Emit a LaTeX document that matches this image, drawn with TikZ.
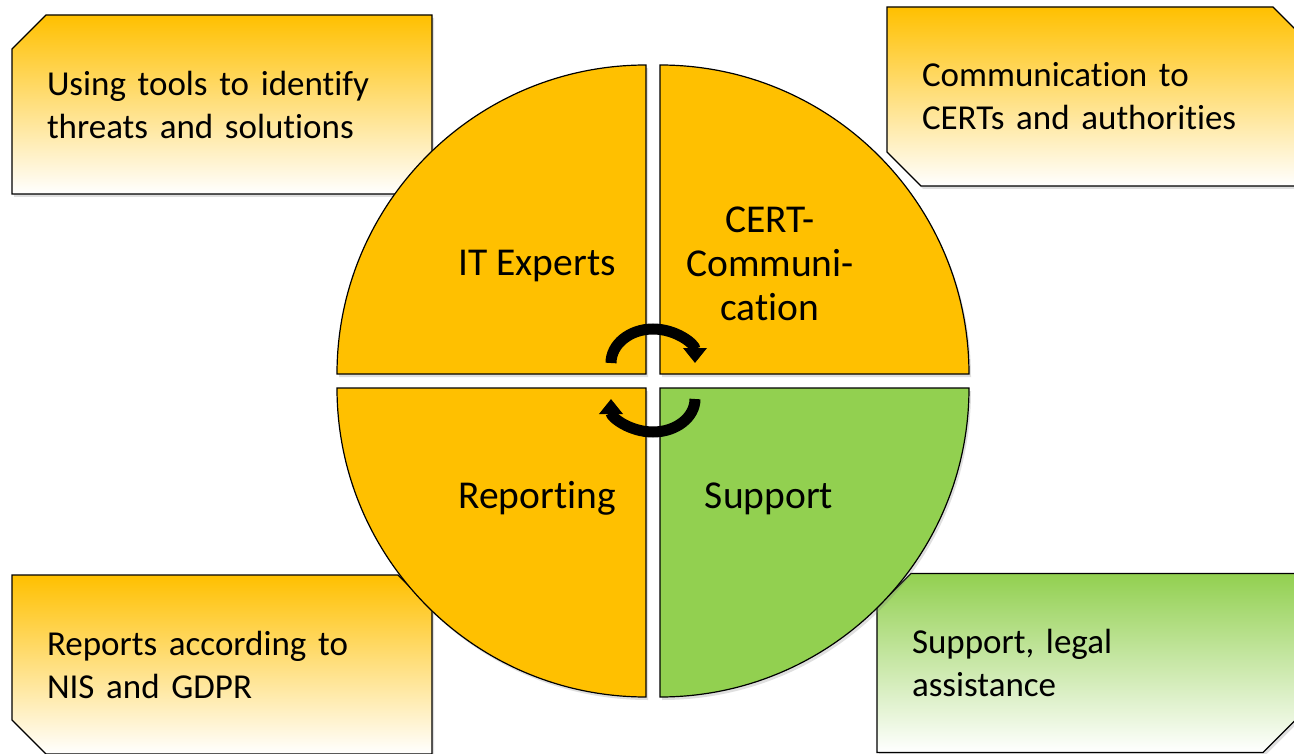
\documentclass[tikz,border=0pt]{standalone}
\usepackage{fontspec}
\setmainfont{Carlito}[Ligatures=NoCommon]
\usepackage{xcolor}
\usepackage{tikz}
\usetikzlibrary{arrows.meta, calc, shapes.misc, shadows}
\definecolor{segorange}{HTML}{FFC000}
\definecolor{seggreen}{HTML}{92D050}

\tikzset{
  softshadow/.style={drop shadow={opacity=0.25, shadow xshift=2pt, shadow yshift=-3pt}},
  infobox/.style={chamfered rectangle, chamfered rectangle sep=17pt, draw=black,
    line width=1.3pt, minimum width=420pt, minimum height=179pt, text width=350pt,
    align=left, inner sep=0pt, font=\fontsize{35}{43}\selectfont, softshadow},
  orangefade/.style={top color=segorange, middle color=segorange!28!white, bottom color=white},
  greenfade/.style={top color=seggreen, middle color=seggreen!35!white, bottom color=white},
  segment/.style={draw=black, line width=1.2pt, softshadow},
  seglabel/.style={font=\fontsize{39.5}{44}\selectfont, align=center, inner sep=0pt},
  cyclearrow/.style={line width=11pt, black, -{Triangle[width=23pt, length=15pt]}}
}

\begin{document}
\begin{tikzpicture}[x=1pt, y=1pt]
\clip (0,0) rectangle (1294,-754);
\fill[white] (0,0) rectangle (1294,-754);

% ---------------- corner boxes ----------------
\node[infobox, orangefade, chamfered rectangle corners={north west,south east}] (tools) at (222,-104.5) {Using tools to identify\\threats and solutions};
\node[infobox, orangefade, chamfered rectangle corners={north east,south west}] (certs) at (1097,-96.5) {Communication to\\CERTs and authorities};
\node[infobox, orangefade, chamfered rectangle corners={north east,south west}] (reports) at (222,-664.5) {Reports according to\\NIS and GDPR};
\node[infobox, greenfade, chamfered rectangle corners={north west,south east}] (legal) at (1087,-663) {Support, legal\\assistance};

% ---------------- circle quadrants ----------------
\coordinate (c) at (653,-381);
\draw[segment, fill=segorange] ($(c)+(-7,7)$) -- ++(-309,0) arc[start angle=180, end angle=90, radius=309] -- cycle;
\draw[segment, fill=segorange] ($(c)+(7,7)$) -- ++(0,309) arc[start angle=90, end angle=0, radius=309] -- cycle;
\draw[segment, fill=segorange] ($(c)+(-7,-7)$) -- ++(0,-309) arc[start angle=270, end angle=180, radius=309] -- cycle;
\draw[segment, fill=seggreen] ($(c)+(7,-7)$) -- ++(309,0) arc[start angle=0, end angle=-90, radius=309] -- cycle;

% Labels
\node[seglabel, anchor=base] (itexp) at (537,-276) {IT Experts};
\node[seglabel] (certcom) at (770,-264) {CERT-\\Communi-\\cation};
\node[seglabel, anchor=base] (report) at (537,-508) {Reporting};
\node[seglabel, anchor=base] (support) at (769,-508) {Support};

% ---------------- cycle arrows ----------------
\coordinate (topc) at (653,-363);
\coordinate (botc) at (653,-399);
\draw[cyclearrow] ($(topc)+(-42,0)$) arc[start angle=180, end angle=0, x radius=42, y radius=34];
\draw[cyclearrow] ($(botc)+(42,0)$) arc[start angle=0, end angle=-180, x radius=42, y radius=33];
\end{tikzpicture}
\end{document}
